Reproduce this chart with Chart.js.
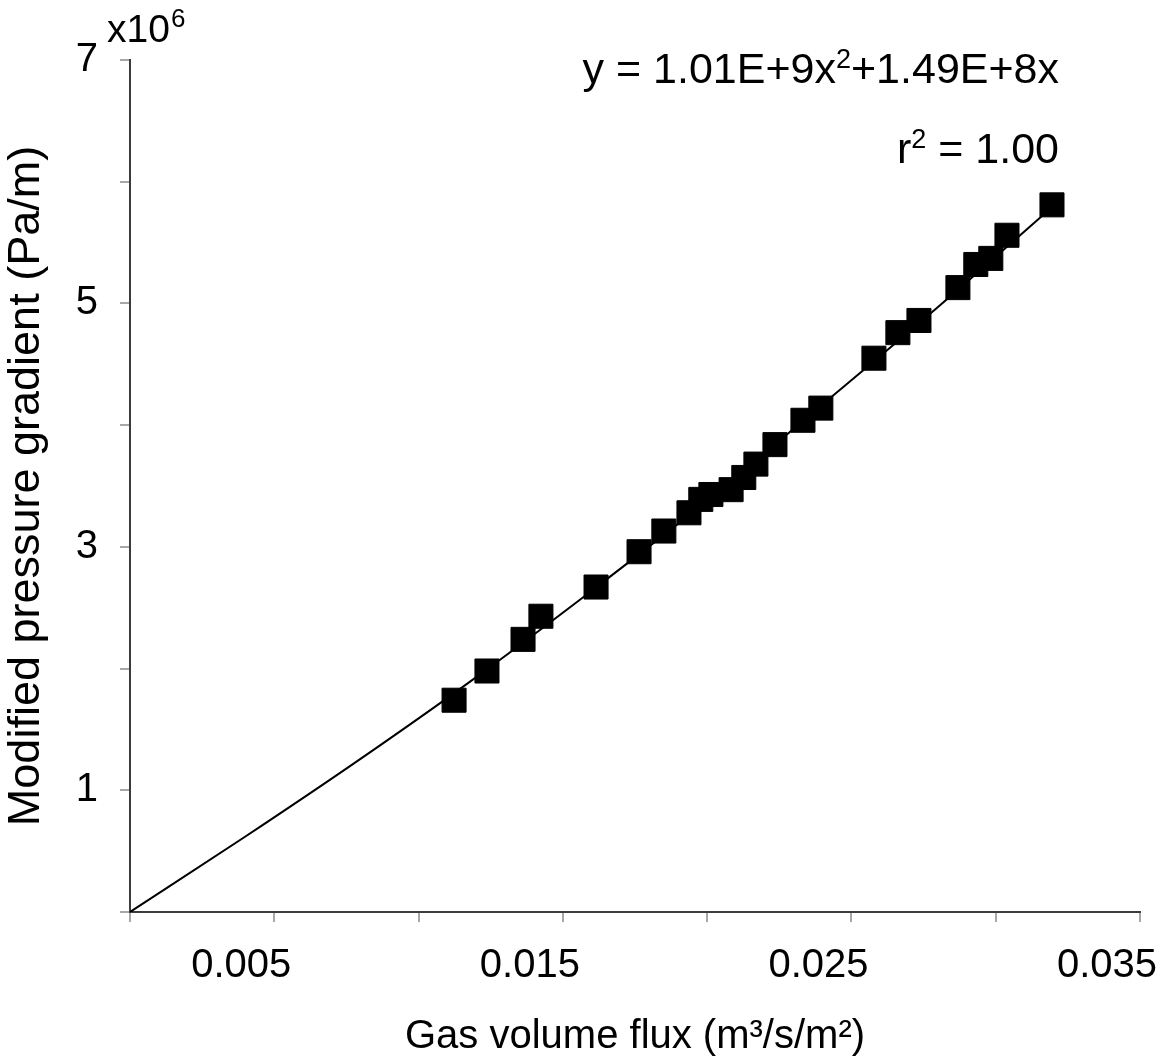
<!DOCTYPE html>
<html>
<head>
<meta charset="utf-8">
<script src="https://cdn.jsdelivr.net/npm/chart.js@4.4.1/dist/chart.umd.min.js"></script>
<style>
  html, body { margin: 0; padding: 0; background: #fff; }
  canvas { display: block; }
</style>
</head>
<body>
<canvas id="chart" width="1168" height="1063"></canvas>
<script>
// measured points (gas volume flux, modified pressure gradient)
const fluxX = [0.01123, 0.01237, 0.01362, 0.01424, 0.01615, 0.01764, 0.01850, 0.01937,
  0.01978, 0.02013, 0.02083, 0.02127, 0.02169, 0.02235, 0.02332, 0.02394,
  0.02578, 0.02661, 0.02734, 0.02869, 0.02931, 0.02983, 0.03039, 0.03195];
const gradY = [1.74e6, 1.98e6, 2.24e6, 2.43e6, 2.67e6, 2.96e6, 3.13e6, 3.28e6,
  3.39e6, 3.43e6, 3.47e6, 3.57e6, 3.68e6, 3.84e6, 4.04e6, 4.14e6,
  4.55e6, 4.76e6, 4.86e6, 5.13e6, 5.32e6, 5.37e6, 5.56e6, 5.81e6];

// trend line
const fitX = [0, 0.004, 0.008, 0.012, 0.016, 0.020, 0.024, 0.028, 0.032];
const fitY = [0, 0.62e6, 1.26e6, 1.93e6, 2.64e6, 3.38e6, 4.17e6, 4.97e6, 5.80e6];

const xTickLabels = ["0.005", "0.015", "0.025", "0.035"];
const yTickLabels = ["1", "3", "5", "7"];

const FONT = "'Liberation Sans', Arial, sans-serif";

function pts(xs, ys) {
  return xs.map((x, i) => ({ x: x, y: ys[i] }));
}

// equation text and x10^6 multiplier
const annotations = {
  id: "annotations",
  afterDraw(chart) {
    const ctx = chart.ctx;
    ctx.save();
    ctx.fillStyle = "#000";
    ctx.textBaseline = "alphabetic";
    ctx.textAlign = "left";

    function drawParts(parts, right, base) {
      let total = 0;
      parts.forEach(p => { ctx.font = p.size + "px " + FONT; total += ctx.measureText(p.t).width; });
      let x = right - total;
      parts.forEach(p => {
        ctx.font = p.size + "px " + FONT;
        ctx.fillText(p.t, x, base - (p.up || 0));
        x += ctx.measureText(p.t).width;
      });
    }

    drawParts([
      { t: "y = 1.01E+9x", size: 43 },
      { t: "2", size: 27, up: 15 },
      { t: "+1.49E+8x", size: 43 }
    ], 1059, 83);

    drawParts([
      { t: "r", size: 43 },
      { t: "2", size: 27, up: 15 },
      { t: " = 1.00", size: 43 }
    ], 1059, 163);

    ctx.font = "39px " + FONT;
    ctx.fillText("x10", 107, 42);
    const w = ctx.measureText("x10").width;
    ctx.font = "26px " + FONT;
    ctx.fillText("6", 107 + w + 1, 27);
    ctx.restore();
  }
};

new Chart(document.getElementById("chart"), {
  type: "scatter",
  data: {
    datasets: [
      {
        label: "fit",
        type: "line",
        data: pts(fitX, fitY),
        borderColor: "#000",
        borderWidth: 2,
        pointRadius: 0,
        cubicInterpolationMode: "monotone",
        fill: false,
        order: 2
      },
      {
        label: "data",
        data: pts(fluxX, gradY),
        pointStyle: "rect",
        pointRadius: 17,
        pointBorderWidth: 1,
        backgroundColor: "#000",
        borderColor: "#000",
        order: 1
      }
    ]
  },
  options: {
    responsive: false,
    devicePixelRatio: 1,
    animation: false,
    layout: { padding: { top: 60, right: 28, left: 0, bottom: 0 } },
    plugins: { legend: { display: false }, tooltip: { enabled: false } },
    scales: {
      x: {
        type: "linear",
        min: 0,
        max: 0.035,
        afterFit(s) { s.height = 151; s.paddingLeft = 0; s.paddingRight = 0; },
        ticks: {
          stepSize: 0.005,
          autoSkip: false,
          maxRotation: 0,
          padding: 20,
          labelOffset: -33,
          color: "#000",
          font: { family: FONT, size: 40 },
          callback(v) {
            const l = xTickLabels.find(t => Math.abs(Number(t) - v) < 1e-6);
            return l || "";
          }
        },
        grid: { drawOnChartArea: false, drawTicks: true, tickLength: 10, color: "#a8a8a8", lineWidth: 2 },
        border: { display: true, color: "#3c3c3c", width: 2 },
        title: {
          display: true,
          text: "Gas volume flux (m³/s/m²)",
          color: "#000",
          font: { family: FONT, size: 40 },
          padding: { top: 0, bottom: 2 }
        }
      },
      y: {
        type: "linear",
        min: 0,
        max: 7e6,
        afterFit(s) { s.width = 130; s.paddingTop = 0; s.paddingBottom = 0; },
        ticks: {
          stepSize: 1e6,
          autoSkip: false,
          padding: 22,
          color: "#000",
          font: { family: FONT, size: 40 },
          callback(v) {
            const l = yTickLabels.find(t => Math.abs(Number(t) * 1e6 - v) < 1);
            return l || "";
          }
        },
        grid: { drawOnChartArea: false, drawTicks: true, tickLength: 10, color: "#a8a8a8", lineWidth: 2 },
        border: { display: true, color: "#3c3c3c", width: 2 },
        title: {
          display: true,
          text: "Modified pressure gradient (Pa/m)",
          color: "#000",
          font: { family: FONT, size: 45 },
          padding: { top: 0, bottom: 0 }
        }
      }
    }
  },
  plugins: [annotations]
});
</script>
</body>
</html>
